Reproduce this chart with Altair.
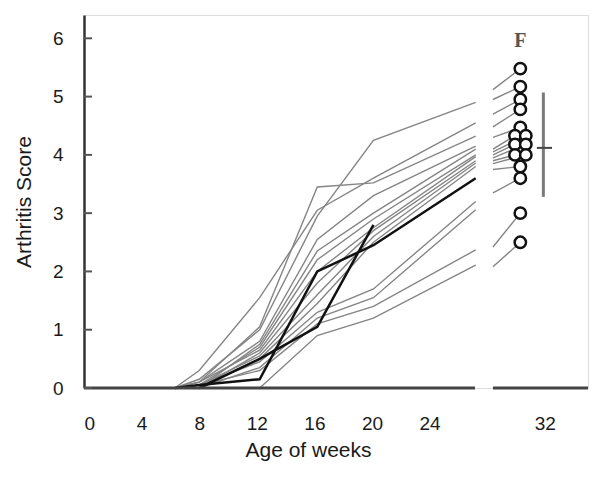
import altair as alt
import pandas as pd

# ---- data ----
weeks = [6.3, 8.0, 12.2, 16.2, 20.1, 27.2]

gray_series = {
    "g1":  [0.0, 0.15, 1.00, 2.95, 4.25, 4.90],
    "g2":  [0.0, 0.10, 1.05, 3.45, 3.52, 4.32],
    "g3":  [0.0, 0.30, 1.55, 3.05, 3.60, 4.55],
    "g4":  [0.0, 0.10, 0.80, 2.55, 3.30, 4.15],
    "g5":  [None, 0.0, 0.75, 2.35, 3.00, 4.10],
    "g6":  [0.0, 0.05, 0.70, 2.20, 2.90, 4.00],
    "g7":  [0.0, 0.10, 0.65, 2.00, 2.75, 3.97],
    "g8":  [None, 0.0, 0.60, 1.80, 2.70, 3.90],
    "g9":  [0.0, 0.05, 0.55, 1.60, 2.60, 3.86],
    "g10": [None, 0.0, 0.50, 1.45, 2.50, 3.80],
    "g11": [0.0, 0.05, 0.45, 1.30, 1.70, 3.20],
    "g12": [None, 0.0, 0.35, 1.20, 1.55, 3.06],
    "g13": [0.0, 0.05, 0.30, 1.10, 1.40, 2.37],
    "g14": [None, None, 0.0, 0.90, 1.20, 2.11],
}

black_series = {
    "b1": [0.0, 0.05, 0.15, 2.00, 2.45, 3.60],
    "b2": [None, 0.0, 0.50, 1.05, 2.80, None],
}

# stubs after the axis break: start value at the break, end at the circle
stub_start_week = 28.4
stub_start = [5.12, 4.95, 4.70, 4.48, 4.30, 4.10, 4.05, 4.00, 3.95, 3.90, 3.85, 3.75, 3.35, 2.42, 2.08]
circle_score = [5.48, 5.17, 4.95, 4.78, 4.47, 4.33, 4.33, 4.18, 4.18, 4.00, 4.00, 3.80, 3.60, 3.00, 2.50]
circle_week = [30.3, 30.3, 30.3, 30.3, 30.3, 29.93, 30.68, 29.93, 30.68, 29.93, 30.68, 30.3, 30.3, 30.3, 30.3]

mean_score = 4.12
sd_low, sd_high = 3.28, 5.07
summary_week = 31.9
mean_tick = [31.45, 32.5]

x_ticks = [0, 4, 8, 12, 16, 20, 24, 32]
y_ticks = [0, 1, 2, 3, 4, 5, 6]
x_axis_segments = [(0.0, 27.15), (28.4, 35.0)]
group_label = "F"
group_label_score = 5.95

# ---- tables ----
def long(series):
    rows = []
    for k, vals in series.items():
        for w, v in zip(weeks, vals):
            if v is not None:
                rows.append({"id": k, "week": w, "score": v})
    return pd.DataFrame(rows)

gray_df = long(gray_series)
black_df = long(black_series)

stub_rows = []
for i, (s, c, cw) in enumerate(zip(stub_start, circle_score, circle_week)):
    stub_rows.append({"id": f"s{i}", "week": stub_start_week, "score": s})
    stub_rows.append({"id": f"s{i}", "week": cw, "score": c})
stub_df = pd.DataFrame(stub_rows)

circ_df = pd.DataFrame({"week": circle_week, "score": circle_score})
axis_df = pd.DataFrame([{"week": a, "week2": b, "score": 0.0} for a, b in x_axis_segments])
ytick_df = pd.DataFrame({"score": y_ticks})
sd_df = pd.DataFrame([{"week": summary_week, "score": sd_low, "score2": sd_high}])
mean_df = pd.DataFrame([{"week": mean_tick[0], "week2": mean_tick[1], "score": mean_score}])
label_df = pd.DataFrame([{"week": circle_week[0], "score": group_label_score, "t": group_label}])

FONT = "Liberation Sans"
xs = alt.Scale(domain=[0, 35], nice=False, zero=False)
ys = alt.Scale(domain=[0, 6.4], nice=False)

x_axis = alt.Axis(values=x_ticks, domain=False, ticks=False, grid=False, labelPadding=26,
                  labelFontSize=19, labelFont=FONT, labelColor="#1a1a1a",
                  title="Age of weeks", titleFontSize=21, titleFont=FONT, titleFontWeight="normal",
                  titleColor="#1a1a1a", titlePadding=6, titleX=224, titleAlign="center")
y_axis = alt.Axis(values=y_ticks, domain=True, domainColor="#333333", domainWidth=2.5, ticks=False,
                  grid=False, labelPadding=21, labelFontSize=19, labelFont=FONT, labelColor="#1a1a1a",
                  title="Arthritis Score", titleFontSize=21, titleFont=FONT, titleFontWeight="normal",
                  titleColor="#1a1a1a", titlePadding=18)

X = alt.X("week:Q", scale=xs, axis=x_axis)
Y = alt.Y("score:Q", scale=ys, axis=y_axis)

gray = alt.Chart(gray_df).mark_line(color="#858585", strokeWidth=1.4).encode(x=X, y=Y, detail="id:N")
stubs = alt.Chart(stub_df).mark_line(color="#858585", strokeWidth=1.4).encode(x=X, y=Y, detail="id:N")
black = alt.Chart(black_df).mark_line(color="#111111", strokeWidth=2.5).encode(x=X, y=Y, detail="id:N")
xaxis_rules = alt.Chart(axis_df).mark_rule(color="#444444", strokeWidth=3).encode(x=X, x2="week2:Q", y=Y)
yticks = alt.Chart(ytick_df).mark_rule(color="#555555", strokeWidth=2).encode(
    x=alt.value(0), x2=alt.value(8), y=Y)
sd = alt.Chart(sd_df).mark_rule(color="#7a7a7a", strokeWidth=3).encode(x=X, y=Y, y2="score2:Q")
mean = alt.Chart(mean_df).mark_rule(color="#444444", strokeWidth=2).encode(x=X, x2="week2:Q", y=Y)
circles = alt.Chart(circ_df).mark_point(shape="circle", filled=True, fill="white", stroke="#111111",
                                        strokeWidth=2.5, size=130, opacity=1).encode(x=X, y=Y)
label = alt.Chart(label_df).mark_text(font="Liberation Serif", fontSize=20, color="#555555",
                                      fontWeight="bold").encode(x=X, y=Y, text="t:N")

chart = alt.layer(gray, stubs, black, xaxis_rules, yticks, sd, mean, circles, label).properties(
    width=504, height=373,
    autosize=alt.AutoSizeParams(type="none"),
    padding={"left": 76, "top": 7, "right": 4, "bottom": 88},
).configure_view(stroke=None).configure(background="white")

chart.save("out.html", embed_options={"renderer": "svg", "actions": False})
